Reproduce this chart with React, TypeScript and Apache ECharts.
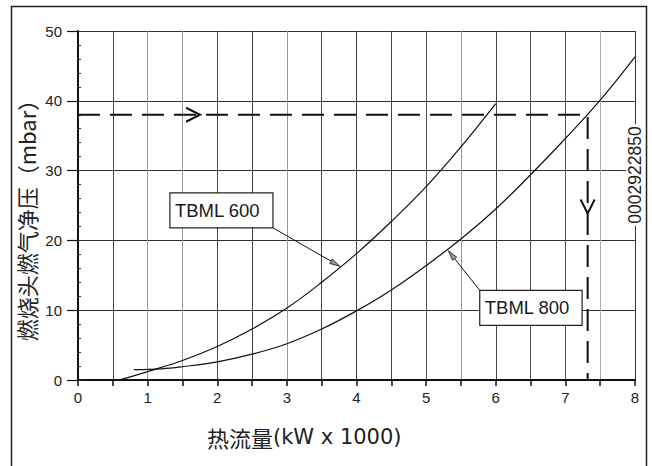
import React, { useEffect, useRef } from "react";
import * as echarts from "echarts";

// x: heat flow (kW x 1000), y: burner head gas pressure (mbar)
const xLabels = [0, 1, 2, 3, 4, 5, 6, 7, 8];
const seriesNames = ["TBML 600", "TBML 800"];
const tbml600 = [
  [0.58, 0], [0.8, 0.6], [1.0, 1.2], [1.5, 2.8], [2.0, 4.8], [2.5, 7.3],
  [3.0, 10.3], [3.5, 14.0], [4.0, 18.1], [4.5, 22.7], [5.0, 27.7],
  [5.5, 33.4], [6.0, 39.6],
];
const tbml800 = [
  [0.8, 1.5], [1.2, 1.6], [1.5, 1.9], [2.0, 2.6], [2.5, 3.7], [3.0, 5.2], [3.5, 7.3],
  [4.0, 9.9], [4.5, 12.9], [5.0, 16.4], [5.5, 20.2], [6.0, 24.5], [6.5, 29.4],
  [7.0, 34.6], [7.5, 40.1], [8.0, 46.3],
];
const guidePath = [[0, 38], [7.32, 38], [7.32, 0]];
// [x, y, direction in degrees]
const guideArrows = [[1.753, 38, 0], [7.32, 23.85, -90]];
// label boxes: [x1, y1, x2, y2] and leader tips [x, y], in data units
const labelBoxes = [[1.32, 26.8, 2.8, 21.8], [5.77, 12.85, 7.24, 7.84]];
const labelTips = [[3.76, 16.3], [5.32, 18.5]];
const drawingCode = "0002922850";
const xTitleCjk = "热流量";
const xTitleLatin = "(kW x 1000)";
const yTitle = "燃烧头燃气净压（mbar）";

const vGridColors = [
  "#000", "#444", "#999", "#999", "#444", "#444", "#999", "#444", "#444",
  "#444", "#555", "#999", "#444", "#555", "#555", "#aaa", "#333",
];

const LATIN = "'Liberation Sans', Arial, sans-serif";
const CJK = "'Noto Sans CJK SC', sans-serif";

export default function App() {
  const ref = useRef<HTMLDivElement>(null);
  useEffect(() => {
    if (!ref.current) return;
    const chart = echarts.init(ref.current, null, { renderer: "svg" });
    const labelData = labelBoxes.map((b, i) => [...b, ...labelTips[i]]);
    const option: any = {
      animation: false,
      backgroundColor: "#fff",
      grid: { left: 78, right: 17, top: 31, bottom: 86 },
      xAxis: {
        type: "value",
        min: 0,
        max: 8,
        interval: 0.5,
        axisLine: { lineStyle: { color: "#111", width: 2 } },
        axisTick: { length: 6, lineStyle: { color: "#111", width: 1.5 } },
        axisLabel: {
          formatter: (v: number) => (xLabels.includes(v) ? String(v) : ""),
          fontSize: 15,
          color: "#222",
          margin: 10,
          fontFamily: LATIN,
        },
        splitLine: { show: true, lineStyle: { color: vGridColors, width: 1 } },
      },
      yAxis: [
        {
          type: "value",
          position: "left",
          min: 0,
          max: 50,
          interval: 10,
          axisLine: { show: true, lineStyle: { color: "#111", width: 2 } },
          axisTick: { show: true, length: 11, lineStyle: { color: "#111", width: 1.2 } },
          axisLabel: { fontSize: 15, color: "#222", margin: 16, fontFamily: LATIN },
          splitLine: { show: true, lineStyle: { color: "#333", width: 1 } },
        },
        {
          type: "value",
          position: "left",
          min: 0,
          max: 50,
          interval: 2,
          axisLine: { show: false },
          axisTick: { show: true, inside: true, length: 3, lineStyle: { color: "#333", width: 1 } },
          axisLabel: { show: false },
          splitLine: { show: false },
        },
      ],
      series: [
        {
          name: seriesNames[0],
          type: "line",
          data: tbml600,
          showSymbol: false,
          smooth: 0.4,
          lineStyle: { color: "#111", width: 1.2 },
          z: 3,
        },
        {
          name: seriesNames[1],
          type: "line",
          data: tbml800,
          showSymbol: false,
          smooth: 0.4,
          lineStyle: { color: "#111", width: 1.2 },
          z: 3,
        },
        {
          name: "guide",
          type: "line",
          data: guidePath,
          showSymbol: false,
          lineStyle: { color: "#111", width: 2, type: [22, 10] },
          z: 4,
        },
        {
          name: "guideArrows",
          type: "custom",
          data: guideArrows,
          z: 5,
          renderItem: (params: any, api: any) => {
            const tip = api.coord([api.value(0), api.value(1)]);
            const a = (api.value(2) * Math.PI) / 180;
            const dx = Math.cos(a), dy = -Math.sin(a);
            const nx = -dy, ny = dx;
            const L = 14, W = 7;
            const bx = tip[0] - dx * L, by = tip[1] - dy * L;
            return {
              type: "polyline",
              shape: {
                points: [
                  [bx + nx * W, by + ny * W],
                  [tip[0], tip[1]],
                  [bx - nx * W, by - ny * W],
                ],
              },
              style: { stroke: "#111", lineWidth: 2, fill: "none" },
            };
          },
        },
        {
          name: "labels",
          type: "custom",
          data: labelData,
          z: 6,
          renderItem: (params: any, api: any) => {
            const i = params.dataIndex;
            const p1 = api.coord([api.value(0), api.value(1)]);
            const p2 = api.coord([api.value(2), api.value(3)]);
            const tip = api.coord([api.value(4), api.value(5)]);
            const left = Math.min(p1[0], p2[0]);
            const right = Math.max(p1[0], p2[0]);
            const top = Math.min(p1[1], p2[1]);
            const bottom = Math.max(p1[1], p2[1]);
            const cx = tip[0] > right ? right : left;
            const cy = tip[1] > bottom ? bottom : top;
            const len = Math.hypot(tip[0] - cx, tip[1] - cy);
            const ux = (tip[0] - cx) / len, uy = (tip[1] - cy) / len;
            const ah = 10, aw = 2.6;
            const bx = tip[0] - ux * ah, by = tip[1] - uy * ah;
            return {
              type: "group",
              children: [
                {
                  type: "line",
                  shape: { x1: cx, y1: cy, x2: bx, y2: by },
                  style: { stroke: "#111", lineWidth: 1 },
                },
                {
                  type: "polygon",
                  shape: {
                    points: [
                      [tip[0], tip[1]],
                      [bx - uy * aw, by + ux * aw],
                      [bx + uy * aw, by - ux * aw],
                    ],
                  },
                  style: { fill: "#999", stroke: "#111", lineWidth: 0.8 },
                },
                {
                  type: "rect",
                  shape: { x: left, y: top, width: right - left, height: bottom - top },
                  style: { fill: "#fff", stroke: "#222", lineWidth: 1.2 },
                },
                {
                  type: "text",
                  x: left + 5,
                  y: (top + bottom) / 2,
                  style: {
                    text: seriesNames[i],
                    fontSize: 18.5,
                    fontFamily: LATIN,
                    fill: "#1a1a1a",
                    align: "left",
                    verticalAlign: "middle",
                  },
                },
              ],
            };
          },
        },
      ],
      graphic: [
        {
          type: "rect",
          shape: { x: 11.5, y: 6.5, width: 635, height: 475 },
          style: { fill: "none", stroke: "#222", lineWidth: 1.5 },
          silent: true,
        },
        {
          type: "text",
          x: 207,
          y: 437,
          style: {
            text: "{c|" + xTitleCjk + "}{l|" + xTitleLatin + "}",
            align: "left",
            verticalAlign: "middle",
            rich: {
              c: { fontSize: 22, fontFamily: CJK, fill: "#222", color: "#222" },
              l: { fontSize: 21, fontFamily: "'DejaVu Sans', sans-serif", fill: "#222", color: "#222" },
            },
          },
        },
        {
          type: "text",
          x: 26,
          y: 215,
          rotation: Math.PI / 2,
          style: {
            text: yTitle,
            fontSize: 22,
            fontFamily: CJK,
            fill: "#222",
            align: "center",
            verticalAlign: "middle",
          },
        },
        {
          type: "text",
          x: 635,
          y: 175,
          rotation: Math.PI / 2,
          z: 100,
          style: {
            text: drawingCode,
            fontSize: 17.5,
            fontFamily: LATIN,
            fill: "#222",
            align: "center",
            verticalAlign: "middle",
            backgroundColor: "#fff",
            padding: [0, 2],
          },
        },
      ],
    };
    chart.setOption(option);
    return () => chart.dispose();
  }, []);
  return (
    <div
      ref={ref}
      style={{ position: "fixed", left: 0, top: 0, width: 652, height: 466, background: "#fff" }}
    />
  );
}
